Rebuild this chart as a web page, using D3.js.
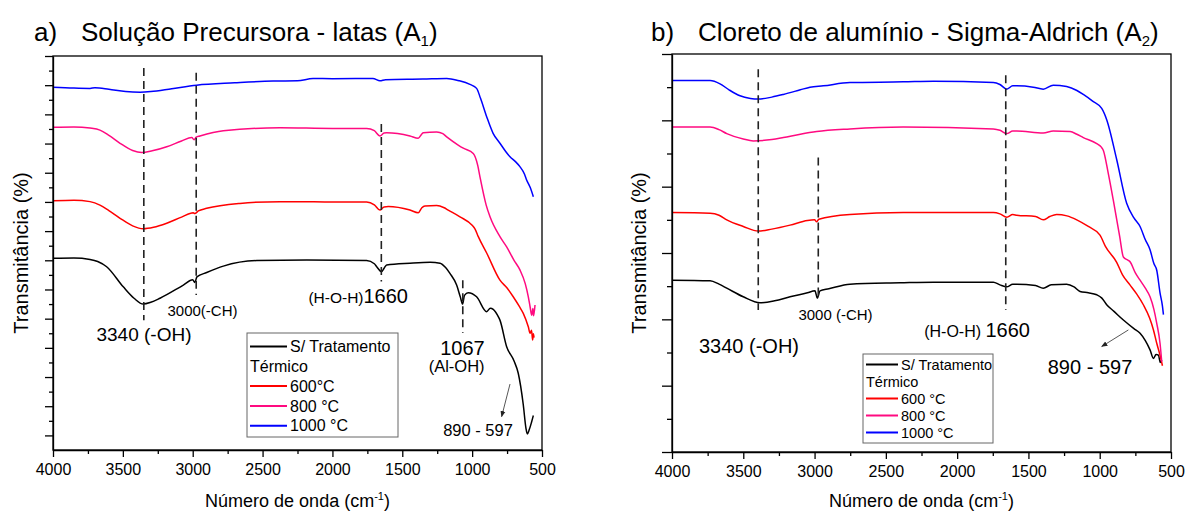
<!DOCTYPE html>
<html>
<head>
<meta charset="utf-8">
<script src="https://cdn.jsdelivr.net/npm/d3@7"></script>
<style>
  body { margin: 0; background: #fff; }
  svg { font-family: Arial, "Liberation Sans", sans-serif; }
</style>
</head>
<body>
<div id="chart"></div>
<script>
// ---- data (wavenumber cm-1, transmittance in arbitrary offset units) ----
const wavenumberTicks = [4000, 3500, 3000, 2500, 2000, 1500, 1000, 500];
const seriesColors = ['#000000', '#ff0000', '#ff0a80', '#0000ff'];
const legendA1 = ['S/ Tratamento', 'Térmico', '600°C', '800 °C', '1000 °C'];
const legendA2 = ['S/ Tratamento', 'Térmico', '600 °C', '800 °C', '1000 °C'];

// a) Solução Precursora - latas (A1)
const a1Untreated = [[4000,65.7],[3850,65.8],[3735,65.3],[3680,64.6],[3616,62.8],[3497,55.9],[3420,52.0],[3354,50.0],[3300,50.6],[3234,52.0],[3067,56.5],[3000,58.3],[2985,57.4],[2970,59.3],[2900,60.8],[2781,63.0],[2542,64.9],[2184,65.1],[1755,64.9],[1700,63.8],[1683,62.8],[1648,61.1],[1630,62.3],[1612,63.4],[1445,64.0],[1300,64.3],[1230,64.0],[1190,62.5],[1159,60.5],[1111,56.5],[1085,52.5],[1068,50.0],[1055,53.0],[1028,53.9],[968,52.5],[896,47.4],[870,48.6],[849,48.2],[813,45.7],[801,44.5],[753,35.4],[700,30.5],[670,26.3],[634,15.5],[615,7.5],[605,5.5],[591,7.0],[575,9.5],[562,11.8]];
const a1T600 = [[4000,85.4],[3850,85.6],[3735,85.1],[3664,83.9],[3600,82.0],[3520,79.4],[3430,76.8],[3354,75.8],[3280,76.3],[3186,77.7],[3080,79.8],[2996,81.3],[2985,81.0],[2960,81.9],[2900,82.8],[2662,84.5],[2375,85.1],[2000,85.0],[1755,85.0],[1700,84.0],[1660,82.2],[1630,83.3],[1600,83.4],[1445,82.2],[1386,81.3],[1360,83.0],[1338,83.6],[1254,83.8],[1200,83.0],[1171,82.2],[1087,79.9],[1000,77.0],[980,75.8],[956,73.1],[896,67.5],[801,58.2],[750,55.5],[706,52.5],[660,49.0],[634,46.8],[598,42.2],[585,40.0],[575,41.0],[567,37.7],[562,39.8],[557,38.5]];
const a1T800 = [[4000,110.6],[3850,110.7],[3735,110.3],[3664,109.6],[3600,107.8],[3520,105.1],[3430,102.6],[3365,101.9],[3290,102.5],[3186,103.9],[3080,105.9],[3007,107.1],[2990,106.3],[2975,107.2],[2948,107.6],[2781,109.4],[2375,110.4],[2000,110.2],[1755,110.2],[1700,109.4],[1660,107.6],[1630,108.6],[1612,108.7],[1445,107.6],[1386,106.8],[1360,108.3],[1350,108.7],[1254,109.0],[1210,108.4],[1182,107.3],[1100,104.5],[1063,103.4],[992,101.6],[960,97.5],[944,93.6],[900,84.0],[872,79.9],[801,73.1],[753,69.6],[700,65.0],[658,61.7],[620,57.0],[598,52.5],[585,49.0],[574,46.2],[565,48.5],[560,46.0],[550,49.7]];
const a1T1000 = [[4000,124.3],[3850,124.0],[3735,123.9],[3700,124.1],[3600,123.6],[3480,122.8],[3377,122.6],[3300,122.8],[3150,123.8],[2972,125.0],[2700,125.8],[2425,126.4],[2250,126.5],[2139,127.3],[2000,127.2],[1710,127.3],[1660,126.5],[1620,126.9],[1352,127.1],[1182,127.3],[1100,126.6],[1016,125.3],[968,123.9],[940,120.5],[896,114.2],[850,108.5],[801,105.1],[760,102.3],[729,100.5],[690,98.8],[658,97.1],[625,94.5],[610,92.5],[585,90.0],[562,86.8]];
const a1Peaks = [3350, 2975, 1650, 1067];

// b) Cloreto de alumínio - Sigma-Aldrich (A2)
const a2Untreated = [[4000,25.9],[3733,25.8],[3670,25.3],[3616,24.7],[3500,23.4],[3383,22.5],[3280,22.8],[3172,23.4],[3050,24.0],[2997,24.3],[2981,23.2],[2962,24.3],[2900,24.6],[2752,25.3],[2400,25.5],[2167,25.6],[1746,25.6],[1700,25.2],[1652,24.9],[1610,25.3],[1582,25.3],[1450,25.1],[1396,24.7],[1340,25.2],[1232,25.3],[1180,24.9],[1138,24.2],[1080,24.0],[1021,23.7],[985,23.2],[951,22.2],[900,21.2],[834,19.9],[760,18.6],[717,17.9],[680,16.8],[647,15.4],[623,14.1],[605,14.7],[588,14.6],[575,13.5],[565,13.9]];
const a2T600 = [[4000,36.1],[3733,36.0],[3670,35.7],[3616,35.0],[3500,34.0],[3395,33.3],[3300,33.6],[3172,34.2],[3050,34.9],[3000,35.0],[2985,34.7],[2970,35.1],[2752,35.8],[2378,36.1],[1746,36.1],[1700,35.9],[1652,35.4],[1610,35.8],[1582,35.7],[1450,35.5],[1396,35.0],[1350,35.5],[1302,35.8],[1230,35.6],[1161,35.0],[1080,34.0],[998,32.7],[960,31.0],[881,28.6],[840,26.7],[788,25.2],[740,23.8],[694,22.2],[650,20.2],[623,18.4],[600,16.4],[577,14.6],[560,13.0]];
const a2T800 = [[4000,49.0],[3733,49.0],[3670,48.6],[3616,48.0],[3500,47.2],[3430,46.9],[3300,47.1],[3219,47.4],[3100,47.9],[2985,48.3],[2752,48.7],[2378,49.0],[1746,48.7],[1700,48.5],[1652,48.0],[1610,48.4],[1582,48.4],[1396,48.1],[1326,48.4],[1208,48.3],[1160,47.9],[1115,47.4],[1021,46.5],[990,46.0],[975,45.5],[940,42.0],[905,38.0],[860,32.5],[834,29.4],[800,28.9],[788,28.7],[750,27.0],[717,25.9],[680,24.7],[647,23.4],[620,21.5],[600,19.4],[577,16.4],[565,13.6]];
const a2T1000 = [[4000,56.0],[3733,56.0],[3663,55.5],[3600,54.6],[3523,53.7],[3450,53.3],[3395,53.2],[3300,53.5],[3219,53.9],[3100,54.6],[3032,55.0],[2939,55.2],[2752,55.7],[2378,55.8],[2167,55.9],[1746,55.7],[1700,55.4],[1652,54.7],[1610,55.2],[1582,55.2],[1466,55.0],[1396,54.7],[1326,55.3],[1232,55.1],[1160,54.5],[1115,53.9],[1050,52.9],[986,51.8],[951,50.1],[881,44.1],[811,37.5],[760,35.3],[717,34.0],[680,32.0],[647,30.5],[620,28.4],[600,27.4],[577,24.0],[560,22.0],[553,20.7]];
const a2Peaks = [3395, 2974, 1659];

const svg = d3.select('#chart').append('svg')
    .attr('width', 1190)
    .attr('height', 517);

const defs = svg.append('defs');
defs.append('marker')
    .attr('id', 'arrow')
    .attr('viewBox', '0 0 10 10')
    .attr('refX', 9).attr('refY', 5)
    .attr('markerWidth', 7).attr('markerHeight', 7)
    .attr('orient', 'auto')
  .append('path')
    .attr('d', 'M0,1 L10,5 L0,9 Z')
    .attr('fill', '#222');

function drawPanel(p) {
    const x = d3.scaleLinear().domain([4000, 500]).range([p.left, p.right]);
    const y = d3.scaleLinear().domain([0, p.yMax]).range([p.bottom, p.top]);
    const g = svg.append('g');

    // title
    g.append('text')
        .attr('x', p.titleX).attr('y', 41)
        .attr('font-size', 26)
        .text(p.letter);
    const t = g.append('text')
        .attr('x', p.titleX + 47).attr('y', 41)
        .attr('font-size', 26);
    t.append('tspan').text(p.title + ' (A');
    t.append('tspan').attr('font-size', 15).attr('dy', 5).text(p.sub);
    t.append('tspan').attr('dy', -5).text(')');

    // spectra
    const line = d3.line()
        .x(d => x(d[0]))
        .y(d => y(d[1]))
        .curve(d3.curveMonotoneX);
    p.series.forEach((s, i) => {
        g.append('path')
            .datum(s)
            .attr('fill', 'none')
            .attr('stroke', seriesColors[i])
            .attr('stroke-width', 1.5)
            .attr('stroke-linejoin', 'round')
            .attr('d', line);
    });

    // dashed peak markers
    p.peaks.forEach((wn, i) => {
        g.append('line')
            .attr('x1', x(wn)).attr('x2', x(wn))
            .attr('y1', y(p.peakSpan[i][0])).attr('y2', y(p.peakSpan[i][1]))
            .attr('stroke', '#222')
            .attr('stroke-width', 1.6)
            .attr('stroke-dasharray', '8,5');
    });

    // axes
    const xAxis = g.append('g')
        .attr('transform', 'translate(0,' + p.bottom + ')')
        .call(d3.axisBottom(x).tickValues(wavenumberTicks).tickFormat(d3.format('d'))
            .tickSize(7).tickSizeOuter(0).tickPadding(7));
    xAxis.selectAll('text').attr('font-size', 16).attr('fill', '#000').attr('font-family', 'Arial, "Liberation Sans", sans-serif');
    g.append('g')
        .attr('transform', 'translate(0,' + p.bottom + ')')
        .call(d3.axisBottom(x).tickValues(d3.range(3750, 500, -500)).tickSize(4).tickFormat(''))
        .select('.domain').remove();

    g.append('g')
        .attr('transform', 'translate(' + p.left + ',0)')
        .call(d3.axisLeft(y).tickValues(p.yMajor).tickSize(p.majorLen).tickFormat('').tickSizeOuter(0));
    g.append('g')
        .attr('transform', 'translate(' + p.left + ',0)')
        .call(d3.axisLeft(y).tickValues(p.yMinor).tickSize(p.majorLen / 2).tickFormat(''))
        .select('.domain').remove();
    g.selectAll('.domain, .tick line').attr('stroke', '#000').attr('stroke-width', 1.3);

    g.append('rect')
        .attr('x', p.left).attr('y', p.top)
        .attr('width', p.right - p.left).attr('height', p.bottom - p.top)
        .attr('fill', 'none').attr('stroke', '#000').attr('stroke-width', 1.3);

    // axis titles
    const xt = g.append('text')
        .attr('x', (p.left + p.right) / 2).attr('y', 507)
        .attr('text-anchor', 'middle').attr('font-size', 18);
    xt.append('tspan').text('Número de onda (cm');
    xt.append('tspan').attr('font-size', 11).attr('dy', -7).text('-1');
    xt.append('tspan').attr('dy', 7).text(')');

    g.append('text')
        .attr('transform', 'translate(' + p.yLabelX + ',' + ((p.top + p.bottom) / 2) + ') rotate(-90)')
        .attr('text-anchor', 'middle').attr('font-size', 20)
        .text('Transmitância (%)');

    // annotations
    p.notes.forEach(n => {
        const txt = g.append('text')
            .attr('x', x(n.wn)).attr('y', y(n.t))
            .attr('text-anchor', n.anchor || 'middle')
            .attr('font-size', n.size);
        n.parts.forEach(pt => txt.append('tspan').attr('font-size', pt[1]).text(pt[0]));
    });
    g.append('line')
        .attr('x1', x(p.arrow[0][0])).attr('y1', y(p.arrow[0][1]))
        .attr('x2', x(p.arrow[1][0])).attr('y2', y(p.arrow[1][1]))
        .attr('stroke', '#444').attr('stroke-width', 0.9)
        .attr('marker-end', 'url(#arrow)');

    // legend
    const L = p.legend;
    const lg = g.append('g');
    lg.append('rect')
        .attr('x', L.x).attr('y', L.y).attr('width', L.w).attr('height', L.h)
        .attr('fill', '#fff').attr('stroke', '#666').attr('stroke-width', 1);
    const rowColor = [seriesColors[0], null, seriesColors[1], seriesColors[2], seriesColors[3]];
    p.legendLabels.forEach((lab, i) => {
        const cy = L.y + L.first + i * L.step;
        if (rowColor[i]) {
            lg.append('line')
                .attr('x1', L.x + 3).attr('x2', L.x + L.lineW)
                .attr('y1', cy).attr('y2', cy)
                .attr('stroke', rowColor[i]).attr('stroke-width', 2);
        }
        lg.append('text')
            .attr('x', rowColor[i] ? L.x + L.lineW + 3 : L.x + 3)
            .attr('y', cy)
            .attr('dy', '0.35em')
            .attr('font-size', L.size)
            .text(lab);
    });
}

drawPanel({
    letter: 'a)', title: 'Solução Precursora - latas', sub: '1', titleX: 34,
    left: 53, right: 542, top: 56, bottom: 450, yMax: 135,
    yMajor: d3.range(5, 136, 10), yMinor: d3.range(10, 135, 10), majorLen: 8,
    yLabelX: 28,
    series: [a1Untreated, a1T600, a1T800, a1T1000],
    peaks: a1Peaks,
    peakSpan: [[130.9, 44.5], [129.3, 53.1], [111.7, 57.7], [58.2, 40.1]],
    notes: [
        {wn: 3349, t: 37.3, size: 19, parts: [['3340 (-OH)', 19]]},
        {wn: 2930, t: 45.9, size: 15, parts: [['3000(-CH)', 15]]},
        {wn: 1459, t: 50.4, size: 20, anchor: 'end', parts: [['(H-O-H)', 15.5], ['1660', 20]]},
        {wn: 1069, t: 32.5, size: 20, parts: [['1067', 20]]},
        {wn: 1111, t: 26.7, size: 16.5, parts: [['(Al-OH)', 16.5]]},
        {wn: 958, t: 4.8, size: 16.5, parts: [['890 - 597', 16.5]]}
    ],
    arrow: [[729, 22.6], [789, 11.4]],
    legendLabels: legendA1,
    legend: {x: 247, y: 333, w: 151, h: 104, first: 13.5, step: 19.8, lineW: 40, size: 16}
});

drawPanel({
    letter: 'b)', title: 'Cloreto de alumínio - Sigma-Aldrich', sub: '2', titleX: 651,
    left: 672, right: 1171, top: 54, bottom: 452, yMax: 60,
    yMajor: d3.range(0, 61, 10), yMinor: d3.range(5, 60, 10), majorLen: 10,
    yLabelX: 646,
    series: [a2Untreated, a2T600, a2T800, a2T1000],
    peaks: a2Peaks,
    peakSpan: [[57.7, 21.4], [44.4, 22.9], [56.8, 21.4]],
    notes: [
        {wn: 3460, t: 14.9, size: 20, parts: [['3340 (-OH)', 20]]},
        {wn: 2853, t: 19.9, size: 15, parts: [['3000 (-CH)', 15]]},
        {wn: 1489, t: 17.3, size: 20, anchor: 'end', parts: [['(H-O-H) ', 16], ['1660', 20]]},
        {wn: 1068, t: 11.8, size: 20, parts: [['890 - 597', 20]]}
    ],
    arrow: [[799, 18.4], [986, 15.9]],
    legendLabels: legendA2,
    legend: {x: 863, y: 354, w: 130, h: 89, first: 10.5, step: 17, lineW: 35, size: 14.5}
});
</script>
</body>
</html>
